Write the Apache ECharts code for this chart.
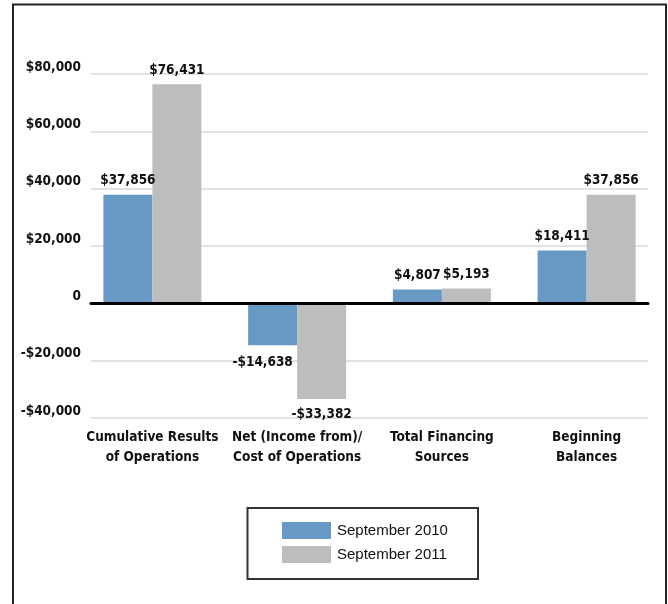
<!DOCTYPE html>
<html>
<head>
<meta charset="utf-8">
<script src="https://cdn.jsdelivr.net/npm/echarts@6/dist/echarts.min.js"></script>
<style>html,body{margin:0;padding:0;background:#fff;}#c{width:668px;height:604px;}</style>
</head>
<body>
<div id="c"></div>
<script>
const categories = ['Cumulative Results\nof Operations', 'Net (Income from)/\nCost of Operations', 'Total Financing\nSources', 'Beginning\nBalances'];
const seriesNames = ['September 2010', 'September 2011'];
const sep2010 = [37856, -14638, 4807, 18411];
const sep2011 = [76431, -33382, 5193, 37856];
const yTicks = { min: -40000, max: 80000, interval: 20000 };

const BOLD = '"DejaVu Sans Condensed", "Liberation Sans", sans-serif';
const FS = 13.5;
function money(v) {
  if (v === 0) return '0';
  const s = Math.abs(v).toString().replace(/\B(?=(\d{3})+(?!\d))/g, ',');
  return (v < 0 ? '-$' : '$') + s;
}
function mkData(arr, tweaks) {
  return arr.map((v, i) => {
    const item = { value: v };
    if (v < 0) item.label = { position: 'bottom', distance: 8 };
    if (tweaks && tweaks[i]) item.label = Object.assign({}, item.label || {}, tweaks[i]);
    return item;
  });
}
const chart = echarts.init(document.getElementById('c'), null, { renderer: 'canvas' });
const labelStyle = {
  show: true, position: 'top', distance: 7,
  fontFamily: BOLD, fontWeight: 'bold', fontSize: FS, color: '#111',
  formatter: p => money(p.value)
};
chart.setOption({
  animation: false,
  backgroundColor: '#fff',
  grid: [
    { left: 80, right: 9, top: 74, bottom: 186 },
    { left: 91, right: 20, top: 74, bottom: 186 }
  ],
  xAxis: [
    { gridIndex: 0, type: 'category', data: categories,
      axisLine: { show: false, onZero: false }, axisTick: { show: false },
      axisLabel: { interval: 0, margin: 9, fontFamily: BOLD, fontWeight: 'bold', fontSize: FS, color: '#111', lineHeight: 20 } },
    { gridIndex: 1, type: 'category', data: categories, z: 5,
      axisLine: { show: true, onZero: true, lineStyle: { color: '#000', width: 3 } },
      axisTick: { show: false }, axisLabel: { show: false } }
  ],
  yAxis: [
    { gridIndex: 0, type: 'value', min: yTicks.min, max: yTicks.max, interval: yTicks.interval, show: false, splitLine: { show: false } },
    { gridIndex: 1, type: 'value', min: yTicks.min, max: yTicks.max, interval: yTicks.interval,
      axisLine: { show: false }, axisTick: { show: false },
      splitLine: { show: true, lineStyle: { color: '#d9d9d9', width: 1.5 } },
      axisLabel: { margin: 10, fontFamily: BOLD, fontWeight: 'bold', fontSize: FS, color: '#111',
        verticalAlign: 'bottom', lineHeight: 14, formatter: money } }
  ],
  legend: {
    orient: 'vertical', left: 277, top: 517,
    itemWidth: 49, itemHeight: 17, itemGap: 7,
    icon: 'rect',
    textStyle: { fontFamily: '"Liberation Sans", Arial, sans-serif', fontSize: 15, color: '#111', padding: [0, 0, 0, 1] },
    data: seriesNames
  },
  graphic: [
    { type: 'rect', shape: { x: 13, y: 4.5, width: 653, height: 640 }, style: { fill: 'none', stroke: '#222', lineWidth: 2 }, z: 100 },
    { type: 'rect', shape: { x: 247.5, y: 508, width: 230.5, height: 71 }, style: { fill: 'none', stroke: '#333', lineWidth: 2 }, z: 100 }
  ],
  series: [
    { name: seriesNames[0], type: 'bar', xAxisIndex: 0, yAxisIndex: 0, barWidth: 49, barGap: '0%',
      itemStyle: { color: '#6899c4' }, label: labelStyle,
      data: mkData(sep2010, { 1: { offset: [-10, 2] } }) },
    { name: seriesNames[1], type: 'bar', xAxisIndex: 0, yAxisIndex: 0, barWidth: 49, barGap: '0%',
      itemStyle: { color: '#bcbdbf' }, label: labelStyle,
      data: mkData(sep2011) }
  ]
});
</script>
</body>
</html>
